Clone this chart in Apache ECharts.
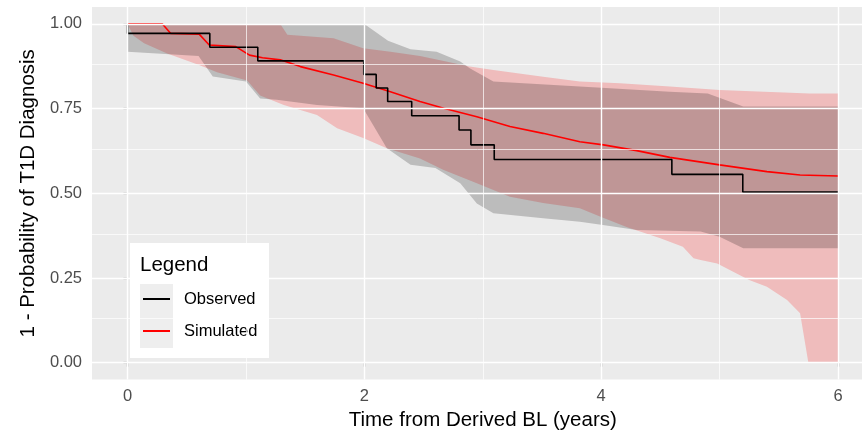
<!DOCTYPE html>
<html>
<head>
<meta charset="utf-8">
<script src="https://cdn.jsdelivr.net/npm/echarts@6/dist/echarts.min.js"></script>
<style>html,body{margin:0;padding:0;background:#fff}#c{width:862px;height:431px}</style>
</head>
<body>
<div id="c"></div>
<script>
// Observed Kaplan-Meier step function
var obsTime = [0, 0, 0.695, 1.10, 1.995, 2.10, 2.197, 2.40, 2.80, 2.90, 3.097, 4.597, 5.196, 6.0];
var obsSurv = [1.0, 0.972, 0.931, 0.891, 0.851, 0.811, 0.771, 0.729, 0.687, 0.643, 0.600, 0.556, 0.504, 0.504];

// Observed CI ribbon
var obsUpT = [0, 2.0, 2.2, 2.39, 2.61, 2.81, 2.89, 3.09, 3.82, 4.58, 4.9, 5.2, 6.0];
var obsUpV = [1.0, 1.0, 0.95, 0.925, 0.918, 0.889, 0.869, 0.83, 0.815, 0.80, 0.795, 0.756, 0.756];
var obsLoT = [0, 0.6, 0.72, 1.0, 1.12, 1.26, 1.6, 1.99, 2.19, 2.39, 2.6, 2.81, 2.95, 3.09, 3.51, 3.82, 4.0, 4.3, 4.84, 5.0, 5.2, 6.0];
var obsLoV = [0.918, 0.905, 0.845, 0.83, 0.78, 0.776, 0.761, 0.751, 0.633, 0.584, 0.575, 0.53, 0.47, 0.441, 0.426, 0.416, 0.407, 0.392, 0.387, 0.372, 0.338, 0.338];

// Simulated median curve
var simTime = [0, 0.295, 0.365, 0.605, 0.69, 0.914, 1.03, 1.14, 1.29, 1.46, 1.74, 1.99, 2.22, 2.47, 2.67, 2.95, 3.23, 3.51, 3.82, 4.02, 4.3, 4.58, 5.0, 5.4, 5.68, 6.0];
var simSurv = [1.0, 1.0, 0.972, 0.97, 0.938, 0.933, 0.908, 0.90, 0.894, 0.874, 0.849, 0.825, 0.80, 0.771, 0.751, 0.726, 0.697, 0.677, 0.652, 0.643, 0.626, 0.606, 0.584, 0.564, 0.554, 0.551];

// Simulated prediction interval
var simUpT = [0, 1.29, 1.35, 1.74, 1.99, 2.22, 2.47, 2.89, 3.09, 3.51, 3.82, 4.16, 4.58, 5.0, 5.76, 6.0];
var simUpV = [1.0, 1.0, 0.968, 0.958, 0.928, 0.918, 0.905, 0.874, 0.864, 0.844, 0.830, 0.825, 0.815, 0.805, 0.795, 0.795];
var simLoT = [0, 0.05, 0.14, 0.335, 0.61, 0.756, 1.01, 1.12, 1.32, 1.6, 1.77, 1.99, 2.19, 2.47, 2.67, 2.95, 3.23, 3.51, 3.82, 4.0, 4.22, 4.5, 4.69, 4.78, 4.84, 4.98, 5.25, 5.4, 5.57, 5.68, 5.75, 6.0];
var simLoV = [1.0, 0.965, 0.943, 0.913, 0.878, 0.857, 0.833, 0.789, 0.761, 0.731, 0.692, 0.663, 0.633, 0.603, 0.569, 0.53, 0.49, 0.471, 0.456, 0.43, 0.40, 0.367, 0.342, 0.308, 0.303, 0.293, 0.244, 0.224, 0.185, 0.146, 0.0, 0.0];

// Axis ticks
var xMajor = [0, 2, 4, 6];
var xMinor = [1, 3, 5];
var yMajor = [0, 0.25, 0.5, 0.75, 1.0];
var yMinor = [0.125, 0.375, 0.625, 0.875];

var legendNames = ['Observed', 'Simulated'];

function zip(a, b) { return a.map(function (v, i) { return [v, b[i]]; }); }

function ribbon(upT, upV, loT, loV, fill) {
  return function (params, api) {
    var pts = [];
    for (var i = 0; i < upT.length; i++) pts.push(api.coord([upT[i], upV[i]]));
    for (var j = loT.length - 1; j >= 0; j--) pts.push(api.coord([loT[j], loV[j]]));
    return { type: 'polygon', shape: { points: pts }, style: { fill: fill } };
  };
}

var gridLines = [];
xMajor.forEach(function (v) { gridLines.push({ xAxis: v, lineStyle: { width: 1.4 } }); });
xMinor.forEach(function (v) { gridLines.push({ xAxis: v, lineStyle: { width: 0.7 } }); });
yMajor.forEach(function (v) { gridLines.push({ yAxis: v, lineStyle: { width: 1.4 } }); });
yMinor.forEach(function (v) { gridLines.push({ yAxis: v, lineStyle: { width: 0.7 } }); });

var FONT = '"Liberation Sans", Arial, sans-serif';
var chart = echarts.init(document.getElementById('c'), null, { renderer: 'canvas' });
chart.setOption({
  animation: false,
  textStyle: { fontFamily: FONT },
  grid: { left: 92, top: 7, width: 781.5, height: 372.6, show: true, backgroundColor: '#ebebeb', borderWidth: 0,
    containLabel: false, outerBoundsMode: 'none' },
  xAxis: {
    type: 'value', min: -0.3, max: 6.3,
    name: 'Time from Derived BL (years)', nameLocation: 'middle', nameGap: 28,
    nameTextStyle: { fontSize: 20.5, color: '#000', fontFamily: FONT },
    axisLine: { show: false },
    axisTick: { show: true, length: 4, customValues: xMajor, lineStyle: { color: '#333', width: 1.2 } },
    axisLabel: { customValues: xMajor, color: '#4d4d4d', fontSize: 16.5, margin: 8, fontFamily: FONT },
    splitLine: { show: false }
  },
  yAxis: {
    type: 'value', min: -0.05, max: 1.05,
    name: '1 - Probability of T1D Diagnosis', nameLocation: 'middle', nameGap: 44,
    nameTextStyle: { fontSize: 20.5, color: '#000', fontFamily: FONT },
    axisLine: { show: false },
    axisTick: { show: true, length: 4, customValues: yMajor, lineStyle: { color: '#333', width: 1.2 } },
    axisLabel: { customValues: yMajor, color: '#4d4d4d', fontSize: 16.5, margin: 10, fontFamily: FONT,
      formatter: function (v) { return v.toFixed(2); } },
    splitLine: { show: false }
  },
  legend: {
    data: legendNames, orient: 'vertical', left: 143, top: 289, padding: 0,
    itemWidth: 27, itemHeight: 2, itemGap: 12, icon: 'rect',
    textStyle: { fontSize: 16.5, color: '#000', lineHeight: 20, padding: [0, 0, 0, 9], fontFamily: FONT },
    selectedMode: false
  },
  graphic: [
    { type: 'rect', z: 3, shape: { x: 130, y: 243, width: 139, height: 115 }, style: { fill: '#ffffff' } },
    { type: 'rect', z: 3, shape: { x: 140, y: 284, width: 33, height: 64 }, style: { fill: '#eeeeee' } },
    { type: 'text', z: 3, x: 140, y: 265, style: { text: 'Legend', fill: '#000', font: '20.5px ' + FONT, textVerticalAlign: 'middle' } }
  ],
  series: [
    { type: 'line', name: 'grid', data: [], z: 1, silent: true,
      markLine: { silent: true, symbol: 'none', label: { show: false }, lineStyle: { color: '#ffffff', type: 'solid' }, data: gridLines } },
    { type: 'custom', name: 'Simulated band', z: 2, silent: true, data: [[0, 0]],
      renderItem: ribbon(simUpT, simUpV, simLoT, simLoV, 'rgba(255,0,0,0.2)') },
    { type: 'custom', name: 'Observed band', z: 2, silent: true, data: [[0, 0]],
      renderItem: ribbon(obsUpT, obsUpV, obsLoT, obsLoV, 'rgba(0,0,0,0.2)') },
    { type: 'line', name: 'Simulated', z: 3, data: zip(simTime, simSurv), symbol: 'none', showSymbol: false,
      itemStyle: { color: '#ff0000' }, lineStyle: { color: '#ff0000', width: 1.6 } },
    { type: 'line', name: 'Observed', z: 4, data: zip(obsTime, obsSurv), step: 'end', symbol: 'none', showSymbol: false,
      itemStyle: { color: '#000000' }, lineStyle: { color: '#000000', width: 1.6 } }
  ]
});
</script>
</body>
</html>
